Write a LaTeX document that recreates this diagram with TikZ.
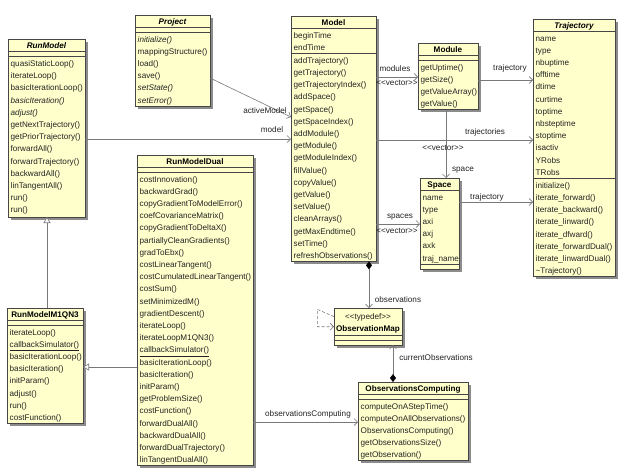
\documentclass[tikz,border=0pt]{standalone}
\usepackage{fontspec}
\setmainfont{Liberation Sans}
\usetikzlibrary{arrows.meta}

\definecolor{classfill}{RGB}{255,255,204}
\definecolor{classedge}{RGB}{70,70,70}
\definecolor{shadowgray}{RGB}{140,140,140}
\definecolor{linkgray}{RGB}{120,120,120}
\definecolor{inkgray}{RGB}{35,35,35}

\newcommand{\rowfont}{\fontsize{8.15}{9.7}\selectfont}
\newcommand{\titlefont}{\fontsize{8.15}{9.7}\selectfont\bfseries}
\newcommand{\stereo}[1]{<\kern0pt<#1>\kern0pt>}
\def\rowstep{12.2}

\tikzset{
  classbox/.style={rectangle, draw=classedge, fill=classfill, line width=0.7pt, inner sep=0pt, outer sep=0pt},
  boxshadow/.style={fill=shadowgray},
  sepline/.style={draw=classedge, line width=0.6pt},
  rowtext/.style={anchor=base west, inner sep=0pt, font=\rowfont, text=inkgray},
  titletext/.style={anchor=base, inner sep=0pt, font=\titlefont, text=black},
  lbl/.style={anchor=base, inner sep=0pt, font=\rowfont, text=inkgray},
  link/.style={draw=linkgray, line width=0.6pt},
  assoc/.style={link, -{Straight Barb[length=3.5pt,width=7pt]}},
  compose/.style={link, {Diamond[length=8pt,width=6pt,color=black]}-{Straight Barb[length=3.5pt,width=7pt]}},
  generalize/.style={link, -{Triangle[open,length=6pt,width=7pt,fill=white]}},
  selfdep/.style={link, densely dashed, -{Straight Barb[length=3.5pt,width=7pt]}},
}

% class frame: id, left, top, right, bottom
\newcommand{\umlbox}[5]{%
  \fill[boxshadow] (#2+2.5,#3+2.5) rectangle (#4+2.5,#5+2.5);
  \node[classbox, minimum width={(#4-#2)*1pt}, minimum height={(#5-#3)*1pt}]
    (#1) at ({(#2+#4)/2},{(#3+#5)/2}) {};
}
% compartment divider: left, right, y
\newcommand{\compline}[3]{\draw[sepline] (#1,#3) -- (#2,#3);}
% list of rows: prefix, left, centre of first row, items
\newcommand{\classrows}[4]{%
  \foreach \txt [count=\i] in {#4} {
    \node[rowtext] (#1-\i) at (#2+2.5,{#3+(\i-1)*\rowstep+3}) {\txt};
  }
}

\begin{document}
\begin{tikzpicture}[x=1pt,y=-1pt]
\fill[white] (0,0) rectangle (619,469);
\useasboundingbox (0,0) rectangle (619,469);

% ---------- RunModel ----------
\umlbox{runmodel}{8}{39}{85}{217}
\node[titletext] (runmodel-title) at (46.5,48) {\itshape RunModel};
\compline{8}{85}{51}\compline{8}{85}{56}
\classrows{rm}{8}{63.5}{quasiStaticLoop(),iterateLoop(),basicIterationLoop(),
  \textit{basicIteration()},\textit{adjust()},getNextTrajectory(),getPriorTrajectory(),
  forwardAll(),forwardTrajectory(),backwardAll(),linTangentAll(),run(),run()}

% ---------- Project ----------
\umlbox{project}{135}{15}{210}{106}
\node[titletext] (project-title) at (172.5,24) {\itshape Project};
\compline{135}{210}{27}\compline{135}{210}{32}
\classrows{pj}{135}{39}{\textit{initialize()},mappingStructure(),load(),save(),
  \textit{setState()},\textit{setError()}}

% ---------- Model ----------
\umlbox{model}{291}{16}{376}{261.4}
\node[titletext] (model-title) at (333.5,25) {Model};
\compline{291}{376}{28}
\classrows{mda}{291}{35}{beginTime,endTime}
\compline{291}{376}{53.2}
\classrows{mdm}{291}{60.2}{addTrajectory(),getTrajectory(),getTrajectoryIndex(),
  addSpace(),getSpace(),getSpaceIndex(),addModule(),getModule(),getModuleIndex(),
  fillValue(),copyValue(),getValue(),setValue(),cleanArrays(),getMaxEndtime(),
  setTime(),refreshObservations()}

% ---------- Module ----------
\umlbox{module}{418}{43}{478}{109.6}
\node[titletext] (module-title) at (448,52) {Module};
\compline{418}{478}{55}\compline{418}{478}{60}
\classrows{mo}{418}{67}{getUptime(),getSize(),getValueArray(),getValue()}

% ---------- Space ----------
\umlbox{space}{420}{178}{459}{269}
\node[titletext] (space-title) at (439.5,187) {Space};
\compline{420}{459}{190}
\classrows{sp}{420}{197}{name,type,axi,axj,axk,traj\_name}
\compline{420}{459}{264}

% ---------- Trajectory ----------
\umlbox{trajectory}{533}{19}{615}{276.6}
\node[titletext] (trajectory-title) at (574,28) {\itshape Trajectory};
\compline{533}{615}{31}
\classrows{tra}{533}{38}{name,type,nbuptime,offtime,dtime,curtime,toptime,
  nbsteptime,stoptime,isactiv,YRobs,TRobs}
\compline{533}{615}{178.2}
\classrows{trm}{533}{185.2}{initialize(),iterate\_forward(),iterate\_backward(),
  iterate\_linward(),iterate\_dfward(),iterate\_forwardDual(),
  iterate\_linwardDual(),\textasciitilde Trajectory()}

% ---------- RunModelDual ----------
\umlbox{dual}{137}{155}{253}{465.6}
\node[titletext] (dual-title) at (195,164) {RunModelDual};
\compline{137}{253}{167}\compline{137}{253}{172}
\classrows{du}{137}{179}{costInnovation(),backwardGrad(),copyGradientToModelError(),
  coefCovarianceMatrix(),copyGradientToDeltaX(),partiallyCleanGradients(),
  gradToEbx(),costLinearTangent(),costCumulatedLinearTangent(),costSum(),
  setMinimizedM(),gradientDescent(),iterateLoop(),iterateLoopM1QN3(),
  \underline{callbackSimulator()},basicIterationLoop(),basicIteration(),initParam(),
  getProblemSize(),costFunction(),forwardDualAll(),backwardDualAll(),
  forwardDualTrajectory(),linTangentDualAll()}

% ---------- RunModelM1QN3 ----------
\umlbox{m1qn3}{7}{308}{83}{423.4}
\node[titletext] (m1qn3-title) at (45,317) {RunModelM1QN3};
\compline{7}{83}{320}\compline{7}{83}{325}
\classrows{mq}{7}{332}{iterateLoop(),\underline{callbackSimulator()},
  basicIterationLoop(),basicIteration(),initParam(),adjust(),run(),costFunction()}

% ---------- ObservationMap ----------
\umlbox{obsmap}{334}{308}{402}{345}
\node[lbl] (obsmap-stereo) at (368,319) {\stereo{typedef}};
\node[titletext] (obsmap-title) at (368,331) {ObservationMap};
\compline{334}{402}{335}\compline{334}{402}{340}

% ---------- ObservationsComputing ----------
\umlbox{obscomp}{358}{382}{468}{460.8}
\node[titletext] (obscomp-title) at (413,391) {ObservationsComputing};
\compline{358}{468}{394}\compline{358}{468}{399}
\classrows{oc}{358}{406}{computeOnAStepTime(),computeOnAllObservations(),
  ObservationsComputing(),getObservationsSize(),getObservation()}

% ---------- connector levels ----------
\coordinate (lvl-active-a) at (0,78);
\coordinate (lvl-active-b) at (0,117);
\coordinate (lvl-model) at (0,139);
\coordinate (lvl-modules) at (0,77);
\coordinate (lvl-traj1) at (0,80);
\coordinate (lvl-trajs) at (0,140);
\coordinate (lvl-traj2) at (0,202);
\coordinate (lvl-spaces) at (0,224);
\coordinate (lvl-obscomp) at (0,422);
\coordinate (lvl-dual) at (0,367);
\coordinate (lvl-loop) at (0,316.7);
\coordinate (col-space) at (446,0);
\coordinate (col-obs) at (369,0);
\coordinate (col-cur) at (393,0);
\coordinate (col-gen) at (47,0);
\coordinate (loop-a) at (317.3,309.3);
\coordinate (loop-b) at (317.3,326.7);

% ---------- connectors ----------
\draw[assoc] (project.east |- lvl-active-a) -- (model.west |- lvl-active-b);
\draw[assoc] (runmodel.east |- lvl-model) -- (model.west |- lvl-model);
\draw[assoc] (model.east |- lvl-modules) -- (module.west |- lvl-modules);
\draw[assoc] (module.east |- lvl-traj1) -- (trajectory.west |- lvl-traj1);
\draw[assoc] (model.east |- lvl-trajs) -- (trajectory.west |- lvl-trajs);
\draw[assoc] (module.south -| col-space) -- (space.north -| col-space);
\draw[assoc] (model.east |- lvl-spaces) -- (space.west |- lvl-spaces);
\draw[assoc] (space.east |- lvl-traj2) -- (trajectory.west |- lvl-traj2);
\draw[compose] (model.south -| col-obs) -- (obsmap.north -| col-obs);
\draw[compose] (obscomp.north -| col-cur) -- (obsmap.south -| col-cur);
\draw[assoc] (dual.east |- lvl-obscomp) -- (obscomp.west |- lvl-obscomp);
\draw[selfdep] (obsmap.west |- lvl-loop) -- (loop-a) -- (loop-b) -- (obsmap.west |- loop-b);
\draw[generalize] (m1qn3.north -| col-gen) -- (runmodel.south -| col-gen);
\draw[generalize] (dual.west |- lvl-dual) -- (m1qn3.east |- lvl-dual);

% ---------- role labels ----------
\node[lbl] (l-active) at (265,113) {activeModel};
\node[lbl] (l-model) at (272,132) {model};
\node[lbl] (l-modules) at (395,71) {modules};
\node[lbl] (l-modvec) at (397,85) {\stereo{vector}};
\node[lbl] (l-traj1) at (510,70) {trajectory};
\node[lbl] (l-trajs) at (485,134) {trajectories};
\node[lbl] (l-trajvec) at (443,150) {\stereo{vector}};
\node[lbl] (l-space) at (463,171) {space};
\node[lbl] (l-spaces) at (400,218) {spaces};
\node[lbl] (l-spacevec) at (397,233) {\stereo{vector}};
\node[lbl] (l-traj2) at (487,199) {trajectory};
\node[lbl] (l-obs) at (398,302) {observations};
\node[lbl] (l-curobs) at (436,360) {currentObservations};
\node[lbl] (l-obscomp) at (308,416) {observationsComputing};
\end{tikzpicture}
\end{document}
